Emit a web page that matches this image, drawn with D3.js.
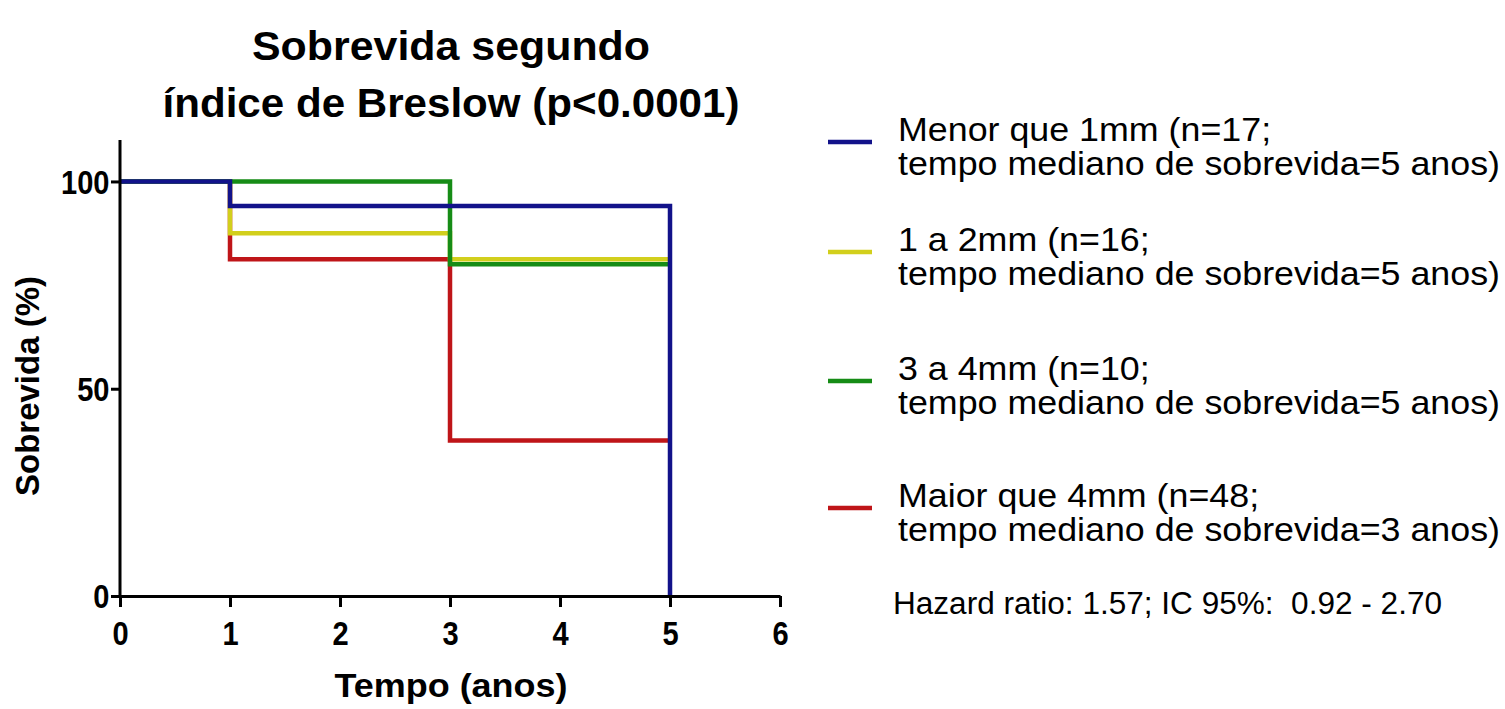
<!DOCTYPE html>
<html>
<head>
<meta charset="utf-8">
<script src="https://cdn.jsdelivr.net/npm/d3@7"></script>
<style>
  body { margin: 0; background: #fff; }
  text { font-family: "Liberation Sans", Arial, sans-serif; fill: #000; }
</style>
</head>
<body>
<div id="chart"></div>
<script>
// Kaplan-Meier steps per group (time in years, survival in %)
const groups = ["Menor que 1mm", "1 a 2mm", "3 a 4mm", "Maior que 4mm"];
const colors = ["#12128a", "#d2cf1c", "#168c16", "#bf1518"];
const times = [
  [0, 1, 5],
  [0, 1, 3, 5],
  [0, 3, 5],
  [0, 1, 3, 5]
];
const survival = [
  [100, 94.1, 0],
  [100, 87.5, 81.25, 81.25],
  [100, 80, 80],
  [100, 81.25, 37.5, 37.5]
];
const legendLine1 = ["Menor que 1mm (n=17;", "1 a 2mm (n=16;", "3 a 4mm (n=10;", "Maior que 4mm (n=48;"];
const legendLine2 = [
  "tempo mediano de sobrevida=5 anos)",
  "tempo mediano de sobrevida=5 anos)",
  "tempo mediano de sobrevida=5 anos)",
  "tempo mediano de sobrevida=3 anos)"
];
const xTicks = [0, 1, 2, 3, 4, 5, 6];
const yTicks = [0, 50, 100];
const titleLines = ["Sobrevida segundo", "índice de Breslow (p<0.0001)"];
const hazardText = "Hazard ratio: 1.57; IC 95%:  0.92 - 2.70";

const width = 1505, height = 709;
const svg = d3.select("#chart").append("svg")
    .attr("width", width)
    .attr("height", height);

const x = d3.scaleLinear().domain([0, 6]).range([120, 780]);
const y = d3.scaleLinear().domain([0, 110]).range([596, 140]);

// squeeze text horizontally like the original image
function fit(sel, w) {
    return sel.attr("textLength", w).attr("lengthAdjust", "spacingAndGlyphs");
}

// title
fit(svg.append("text").attr("x", 451).attr("y", 60).attr("text-anchor", "middle")
    .style("font-size", "40px").style("font-weight", "bold").text(titleLines[0]), 398);
fit(svg.append("text").attr("x", 451).attr("y", 117).attr("text-anchor", "middle")
    .style("font-size", "40px").style("font-weight", "bold").text(titleLines[1]), 577);

// curves, red first so blue ends up on top
const line = d3.line().curve(d3.curveStepAfter).x(d => x(d[0])).y(d => y(d[1]));
const order = [3, 1, 2, 0];
svg.append("g").selectAll("path")
    .data(order)
    .join("path")
    .attr("d", i => line(d3.zip(times[i], survival[i])))
    .attr("fill", "none")
    .attr("stroke", i => colors[i])
    .attr("stroke-width", 4.5)
    .attr("stroke-linejoin", "miter");

// axes
const xAxis = svg.append("g")
    .attr("transform", `translate(0,${y(0)})`)
    .call(d3.axisBottom(x).tickValues(xTicks).tickFormat(d3.format("d"))
        .tickSize(11).tickSizeOuter(0).tickPadding(13));
const yAxis = svg.append("g")
    .attr("transform", `translate(${x(0)},0)`)
    .call(d3.axisLeft(y).tickValues(yTicks).tickFormat(d3.format("d"))
        .tickSize(9).tickSizeOuter(0).tickPadding(3));

[xAxis, yAxis].forEach(g => {
    g.select(".domain").attr("stroke", "#000").attr("stroke-width", 3);
    g.selectAll(".tick line").attr("stroke", "#000").attr("stroke-width", 3);
    g.selectAll(".tick text")
        .style("font-family", "'Liberation Sans', Arial, sans-serif")
        .style("font-size", "33px").style("font-weight", "bold")
        .attr("fill", "#000")
        .attr("transform", "scale(0.88,1)");
});
xAxis.selectAll(".tick text").attr("dy", "0.75em");
yAxis.selectAll(".tick text").attr("dy", "0.35em");
// y domain starts at the axis top
yAxis.select(".domain").attr("d", `M0,${y(110)}V${y(0)}`);

// axis titles
fit(svg.append("text").attr("x", 451).attr("y", 697).attr("text-anchor", "middle")
    .style("font-size", "34px").style("font-weight", "bold").text("Tempo (anos)"), 233);
svg.append("text")
    .attr("transform", "translate(39,386) rotate(-90)")
    .attr("text-anchor", "middle")
    .style("font-size", "33px").style("font-weight", "bold")
    .text("Sobrevida (%)");

// legend
const legY = [141, 251, 380, 507];
const leg = svg.append("g").selectAll("g")
    .data(groups)
    .join("g")
    .attr("transform", (d, i) => `translate(0,${legY[i]})`);
leg.append("line")
    .attr("x1", 828).attr("x2", 872).attr("y1", 1).attr("y2", 1)
    .attr("stroke", (d, i) => colors[i]).attr("stroke-width", 4.5);
const l2 = leg.append("text").attr("x", 898).attr("y", 34)
    .style("font-size", "33px")
    .text((d, i) => legendLine2[i]);
const ratio = 602 / l2.node().getComputedTextLength();
l2.call(fit, 602);
leg.append("text").attr("x", 898).attr("y", 0)
    .style("font-size", "33px")
    .text((d, i) => legendLine1[i])
    .each(function() {
        fit(d3.select(this), this.getComputedTextLength() * ratio);
    });

const hz = svg.append("text").attr("x", 893).attr("y", 614)
    .style("font-size", "31px").style("white-space", "pre").text(hazardText);
fit(hz, 549);
</script>
</body>
</html>
